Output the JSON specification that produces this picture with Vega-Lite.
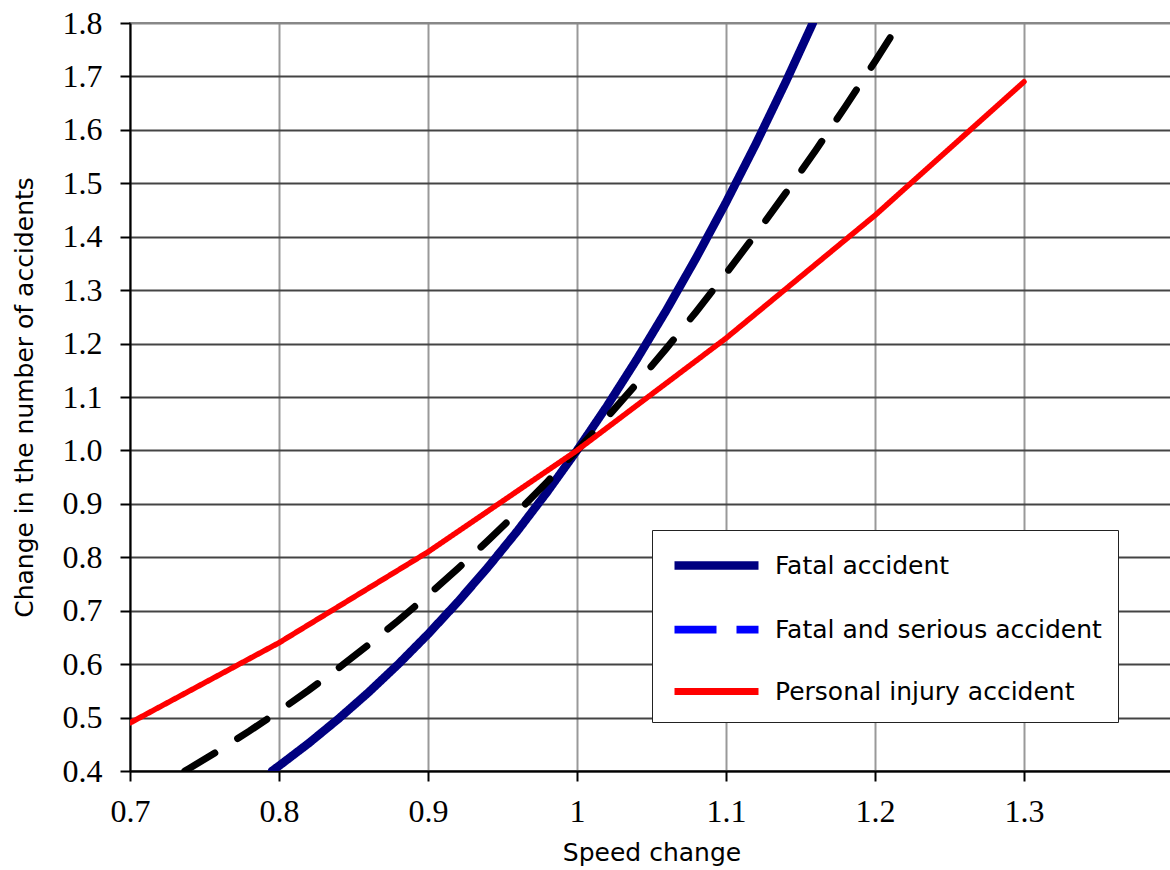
{
  "$schema": "https://vega.github.io/schema/vega-lite/v6.json",
  "autosize": {"type": "none"},
  "width": 1043,
  "height": 748,
  "padding": {"left": 130, "top": 23, "right": 0, "bottom": 99},
  "background": "white",
  "config": {
    "view": {"stroke": "#888888", "strokeWidth": 2},
    "axis": {
      "labelFont": "Liberation Serif",
      "labelFontSize": 32,
      "labelColor": "#000000",
      "titleFont": "DejaVu Sans",
      "titleFontSize": 25,
      "titleFontWeight": "normal",
      "titleColor": "#000000",
      "tickColor": "#000000",
      "tickSize": 10,
      "tickWidth": 2,
      "domainColor": "#000000",
      "domainWidth": 2
    }
  },
  "data": {
    "values": [
      {"s": "Fatal accident", "x": 0.7953, "y": 0.4},
      {"s": "Fatal accident", "x": 0.80, "y": 0.4096},
      {"s": "Fatal accident", "x": 0.82, "y": 0.4521},
      {"s": "Fatal accident", "x": 0.84, "y": 0.4979},
      {"s": "Fatal accident", "x": 0.86, "y": 0.5470},
      {"s": "Fatal accident", "x": 0.88, "y": 0.5997},
      {"s": "Fatal accident", "x": 0.90, "y": 0.6561},
      {"s": "Fatal accident", "x": 0.92, "y": 0.7164},
      {"s": "Fatal accident", "x": 0.94, "y": 0.7807},
      {"s": "Fatal accident", "x": 0.96, "y": 0.8493},
      {"s": "Fatal accident", "x": 0.98, "y": 0.9224},
      {"s": "Fatal accident", "x": 1.00, "y": 1.0},
      {"s": "Fatal accident", "x": 1.02, "y": 1.0824},
      {"s": "Fatal accident", "x": 1.04, "y": 1.1699},
      {"s": "Fatal accident", "x": 1.06, "y": 1.2625},
      {"s": "Fatal accident", "x": 1.08, "y": 1.3605},
      {"s": "Fatal accident", "x": 1.10, "y": 1.4641},
      {"s": "Fatal accident", "x": 1.12, "y": 1.5735},
      {"s": "Fatal accident", "x": 1.14, "y": 1.6890},
      {"s": "Fatal accident", "x": 1.1583, "y": 1.8},
      {"s": "Fatal and serious accident", "x": 0.7368, "y": 0.4},
      {"s": "Fatal and serious accident", "x": 0.74, "y": 0.4052},
      {"s": "Fatal and serious accident", "x": 0.76, "y": 0.4390},
      {"s": "Fatal and serious accident", "x": 0.78, "y": 0.4746},
      {"s": "Fatal and serious accident", "x": 0.80, "y": 0.5120},
      {"s": "Fatal and serious accident", "x": 0.82, "y": 0.5514},
      {"s": "Fatal and serious accident", "x": 0.84, "y": 0.5927},
      {"s": "Fatal and serious accident", "x": 0.86, "y": 0.6361},
      {"s": "Fatal and serious accident", "x": 0.88, "y": 0.6815},
      {"s": "Fatal and serious accident", "x": 0.90, "y": 0.7290},
      {"s": "Fatal and serious accident", "x": 0.92, "y": 0.7787},
      {"s": "Fatal and serious accident", "x": 0.94, "y": 0.8306},
      {"s": "Fatal and serious accident", "x": 0.96, "y": 0.8847},
      {"s": "Fatal and serious accident", "x": 0.98, "y": 0.9412},
      {"s": "Fatal and serious accident", "x": 1.00, "y": 1.0},
      {"s": "Fatal and serious accident", "x": 1.02, "y": 1.0612},
      {"s": "Fatal and serious accident", "x": 1.04, "y": 1.1249},
      {"s": "Fatal and serious accident", "x": 1.06, "y": 1.1910},
      {"s": "Fatal and serious accident", "x": 1.08, "y": 1.2597},
      {"s": "Fatal and serious accident", "x": 1.10, "y": 1.3310},
      {"s": "Fatal and serious accident", "x": 1.12, "y": 1.4049},
      {"s": "Fatal and serious accident", "x": 1.14, "y": 1.4815},
      {"s": "Fatal and serious accident", "x": 1.16, "y": 1.5609},
      {"s": "Fatal and serious accident", "x": 1.18, "y": 1.6430},
      {"s": "Fatal and serious accident", "x": 1.20, "y": 1.7280},
      {"s": "Fatal and serious accident", "x": 1.2164, "y": 1.8},
      {"s": "Personal injury accident", "x": 0.7, "y": 0.49},
      {"s": "Personal injury accident", "x": 0.8, "y": 0.64},
      {"s": "Personal injury accident", "x": 0.9, "y": 0.81},
      {"s": "Personal injury accident", "x": 1.0, "y": 1.0},
      {"s": "Personal injury accident", "x": 1.1, "y": 1.21},
      {"s": "Personal injury accident", "x": 1.2, "y": 1.44},
      {"s": "Personal injury accident", "x": 1.3, "y": 1.69}
    ]
  },
  "encoding": {
    "x": {
      "field": "x",
      "type": "quantitative",
      "scale": {"domain": [0.7, 1.4], "nice": false, "zero": false},
      "axis": {
        "title": "Speed change",
        "values": [0.7, 0.8, 0.9, 1, 1.1, 1.2, 1.3, 1.4],
        "format": "~g",
        "labelExpr": "datum.value > 1.35 ? '' : datum.label",
        "labelFlush": false,
        "labelOverlap": false,
        "labelPadding": 15,
        "titlePadding": 13,
        "grid": true,
        "gridColor": "#999999",
        "gridWidth": 2
      }
    },
    "y": {
      "field": "y",
      "type": "quantitative",
      "scale": {"domain": [0.4, 1.8], "nice": false, "zero": false},
      "axis": {
        "title": "Change in the number of accidents",
        "values": [0.4, 0.5, 0.6, 0.7, 0.8, 0.9, 1.0, 1.1, 1.2, 1.3, 1.4, 1.5, 1.6, 1.7, 1.8],
        "format": ".1f",
        "labelFlush": false,
        "labelOverlap": false,
        "labelPadding": 18,
        "titlePadding": 25,
        "grid": true,
        "gridColor": {"condition": {"test": "datum.value > 1.75", "value": "#888888"}, "value": "#444444"},
        "gridWidth": 2
      }
    }
  },
  "layer": [
    {
      "mark": {"type": "line", "clip": true, "strokeCap": "round"},
      "encoding": {
        "color": {
          "field": "s",
          "type": "nominal",
          "scale": {"domain": ["Fatal accident", "Fatal and serious accident", "Personal injury accident"], "range": ["#000080", "#000000", "#ff0000"]},
          "legend": null
        },
        "strokeDash": {
          "field": "s",
          "type": "nominal",
          "scale": {"domain": ["Fatal accident", "Fatal and serious accident", "Personal injury accident"], "range": [[1, 0], [35, 27], [1, 0]]},
          "legend": null
        },
        "strokeWidth": {
          "field": "s",
          "type": "nominal",
          "scale": {"domain": ["Fatal accident", "Fatal and serious accident", "Personal injury accident"], "range": [8.5, 5.5, 5]},
          "legend": null
        }
      }
    },
    {
      "transform": [{"filter": "datum.x > 5"}],
      "mark": {"type": "line", "clip": true, "strokeCap": "round"},
      "encoding": {
        "color": {
          "field": "s",
          "type": "nominal",
          "scale": {"domain": ["Fatal accident", "Fatal and serious accident", "Personal injury accident"], "range": ["#000080", "#0000ff", "#ff0000"]},
          "legend": {
            "title": null,
            "orient": "none",
            "legendX": 522,
            "legendY": 507,
            "padding": 16,
            "fillColor": "#ffffff",
            "strokeColor": "#222222",
            "symbolType": "M-2.8,0H2.8",
            "symbolSize": 900,
            "symbolOffset": 29,
            "labelOffset": 39,
            "labelFont": "DejaVu Sans",
            "labelFontSize": 25,
            "labelColor": "#000000",
            "labelLimit": 500,
            "rowPadding": 27.5
          }
        },
        "strokeDash": {
          "field": "s",
          "type": "nominal",
          "scale": {"domain": ["Fatal accident", "Fatal and serious accident", "Personal injury accident"], "range": [[1, 0], [42, 20], [1, 0]]},
          "legend": {"title": null}
        },
        "strokeWidth": {
          "field": "s",
          "type": "nominal",
          "scale": {"domain": ["Fatal accident", "Fatal and serious accident", "Personal injury accident"], "range": [8.5, 7, 7]},
          "legend": {"title": null}
        }
      }
    }
  ],
  "resolve": {
    "scale": {"color": "independent", "strokeDash": "independent", "strokeWidth": "independent"},
    "legend": {"color": "independent", "strokeDash": "independent", "strokeWidth": "independent"}
  }
}
